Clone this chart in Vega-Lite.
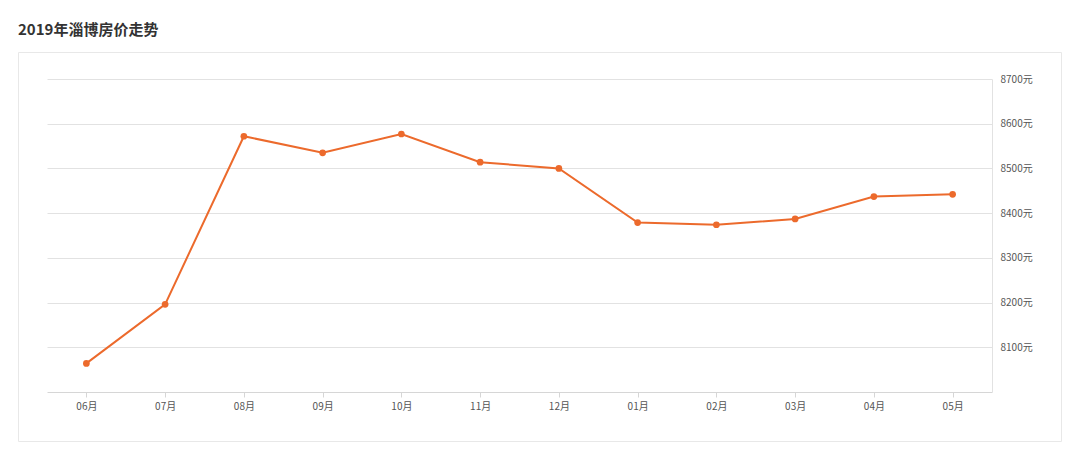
{
  "$schema": "https://vega.github.io/schema/vega-lite/v6.json",
  "width": 1043,
  "height": 389,
  "autosize": {"type": "none"},
  "padding": {"left": 18, "top": 52, "right": 19, "bottom": 33},
  "background": "#ffffff",
  "title": {
    "text": "2019年淄博房价走势",
    "anchor": "start",
    "font": "Noto Sans CJK SC",
    "fontSize": 15,
    "fontWeight": "bold",
    "color": "#333333",
    "offset": 14
  },
  "config": {"view": {"stroke": "#e8e8e8", "strokeWidth": 1}},
  "data": {
    "values": [
      {"month": "06月", "price": 8064},
      {"month": "07月", "price": 8196},
      {"month": "08月", "price": 8572},
      {"month": "09月", "price": 8535},
      {"month": "10月", "price": 8577},
      {"month": "11月", "price": 8514},
      {"month": "12月", "price": 8500},
      {"month": "01月", "price": 8379},
      {"month": "02月", "price": 8374},
      {"month": "03月", "price": 8387},
      {"month": "04月", "price": 8437},
      {"month": "05月", "price": 8442}
    ]
  },
  "encoding": {
    "x": {
      "field": "month",
      "type": "ordinal",
      "sort": null,
      "scale": {"type": "point", "range": [29, 974], "padding": 0.5},
      "axis": {
        "orient": "bottom",
        "offset": -49,
        "title": null,
        "labelAngle": 0,
        "grid": false,
        "domainColor": "#d6d6d6",
        "tickColor": "#d6d6d6",
        "tickSize": 5,
        "labelPadding": 4,
        "labelFont": "Noto Sans CJK SC",
        "labelFontSize": 10,
        "labelColor": "#555555"
      }
    }
  },
  "layer": [
    {
      "mark": {"type": "line", "color": "#ec6a2c", "strokeWidth": 2},
      "encoding": {
        "y": {
          "field": "price",
          "type": "quantitative",
          "scale": {"domain": [8000, 8700], "range": [340, 27], "nice": false, "zero": false},
          "axis": {
            "orient": "left",
            "title": null,
            "values": [8100, 8200, 8300, 8400, 8500, 8600, 8700],
            "grid": true,
            "gridColor": "#e2e2e2",
            "domain": false,
            "ticks": false,
            "labels": false
          }
        }
      }
    },
    {
      "mark": {"type": "point", "filled": true, "color": "#ec6a2c", "size": 45, "opacity": 1},
      "encoding": {
        "y": {
          "field": "price",
          "type": "quantitative",
          "scale": {"domain": [8000, 8700], "range": [340, 27], "nice": false, "zero": false},
          "axis": {
            "orient": "right",
            "offset": -69,
            "title": null,
            "values": [8100, 8200, 8300, 8400, 8500, 8600, 8700],
            "labelExpr": "datum.value + '元'",
            "ticks": false,
            "grid": false,
            "domainColor": "#e2e2e2",
            "labelPadding": 8,
            "labelFont": "Noto Sans CJK SC",
            "labelFontSize": 10,
            "labelColor": "#555555"
          }
        }
      }
    }
  ],
  "resolve": {"axis": {"y": "independent"}}
}
